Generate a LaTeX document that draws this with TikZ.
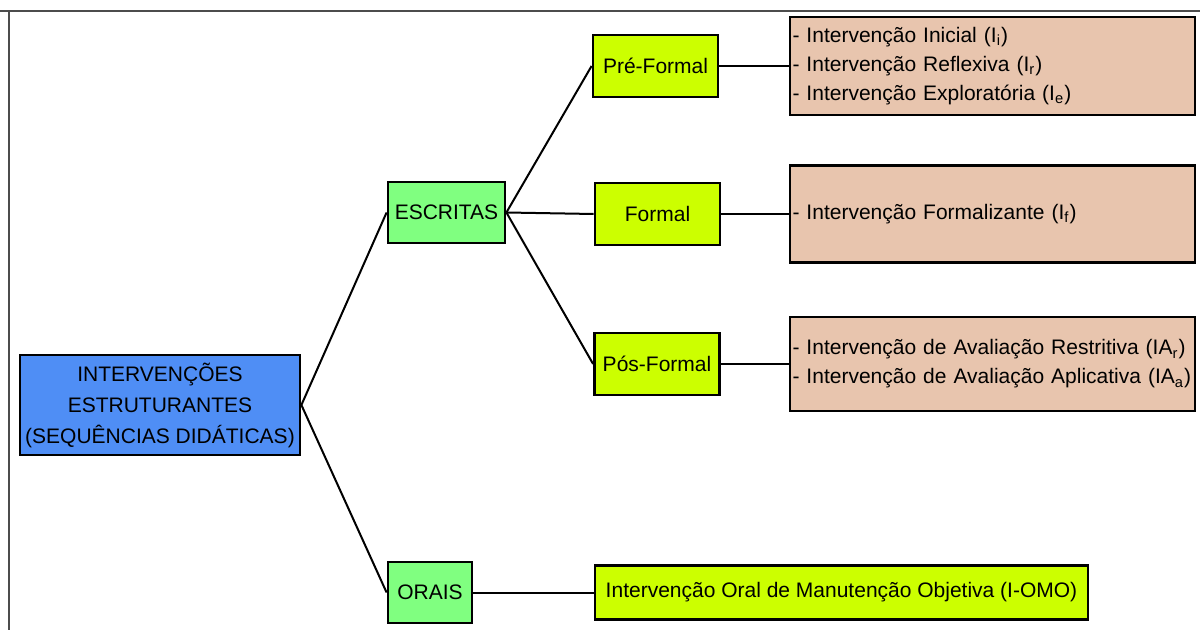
\documentclass[tikz,border=0pt]{standalone}
\usepackage{fontspec}
\setmainfont{Liberation Sans}
\usepackage{xcolor}
\usepackage{tikz}
\usetikzlibrary{shadows}
\definecolor{raizazul}{HTML}{4F8EF5}
\definecolor{ramoverde}{HTML}{80FF80}
\definecolor{faseamarela}{HTML}{CCFF00}
\definecolor{listabege}{HTML}{E8C5AE}

\begin{document}
\begin{tikzpicture}[
  x=0.5pt, y=-0.5pt,
  caixa/.style={draw=black, line width=1.4pt, inner sep=1pt, align=center,
                font=\fontsize{10.5}{15.5}\selectfont,
                drop shadow={shadow xshift=0.6pt, shadow yshift=-0.6pt, fill=black!25}},
  raiz/.style={caixa, fill=raizazul, minimum width=140pt, minimum height=50pt},
  ramo/.style={caixa, fill=ramoverde, minimum height=30.5pt},
  fase/.style={caixa, fill=faseamarela, minimum width=62.5pt, minimum height=31pt},
  lista/.style={caixa, fill=listabege, minimum width=202.5pt, text width=200pt,
                align=left, inner xsep=1.25pt, font=\fontsize{10.5}{14.5}\selectfont},
  ligacao/.style={draw=black, line width=1pt}
]
\useasboundingbox (0,0) rectangle (1200,630);
% moldura
\draw[black!70, line width=0.8pt] (0,11) -- (1200,11);
\draw[black!70, line width=0.8pt] (9,11) -- (9,630);

\node[raiz] (raiz) at (160,405) {INTERVENÇÕES\\ESTRUTURANTES\\(SEQUÊNCIAS DIDÁTICAS)};
\node[ramo, minimum width=58.5pt] (escritas) at (446.5,212.5) {ESCRITAS};
\node[ramo, minimum width=42pt] (orais) at (430,592.5) {ORAIS};

\node[fase] (pre) at (655.5,66) {Pré-Formal};
\node[fase] (formal) at (657.5,214) {Formal};
\node[fase] (pos) at (657,364) {Pós-Formal};

\node[lista, minimum height=49pt] (listapre) at (992.5,66)
  {- Intervenção Inicial (I\textsubscript{i})\\
   - Intervenção Reflexiva (I\textsubscript{r})\\
   - Intervenção Exploratória (I\textsubscript{e})};
\node[lista, minimum height=48.5pt] (listaformal) at (992.5,214)
  {- Intervenção Formalizante (I\textsubscript{f})};
\node[lista, minimum height=47pt] (listapos) at (992.5,364)
  {- Intervenção de Avaliação Restritiva (IA\textsubscript{r})\\
   - Intervenção de Avaliação Aplicativa (IA\textsubscript{a})};
\node[fase, minimum width=246.5pt, minimum height=27pt] (omo) at (841.5,592.5)
  {Intervenção Oral de Manutenção Objetiva (I-OMO)};

\draw[ligacao] (raiz.east) -- (escritas.west);
\draw[ligacao] (raiz.east) -- (orais.west);
\draw[ligacao] (escritas.east) -- (pre.west);
\draw[ligacao] (escritas.east) -- (formal.west);
\draw[ligacao] (escritas.east) -- (pos.west);
\draw[ligacao] (pre.east) -- (listapre.west);
\draw[ligacao] (formal.east) -- (listaformal.west);
\draw[ligacao] (pos.east) -- (listapos.west);
\draw[ligacao] (orais.east) -- (omo.west);
\end{tikzpicture}
\end{document}
